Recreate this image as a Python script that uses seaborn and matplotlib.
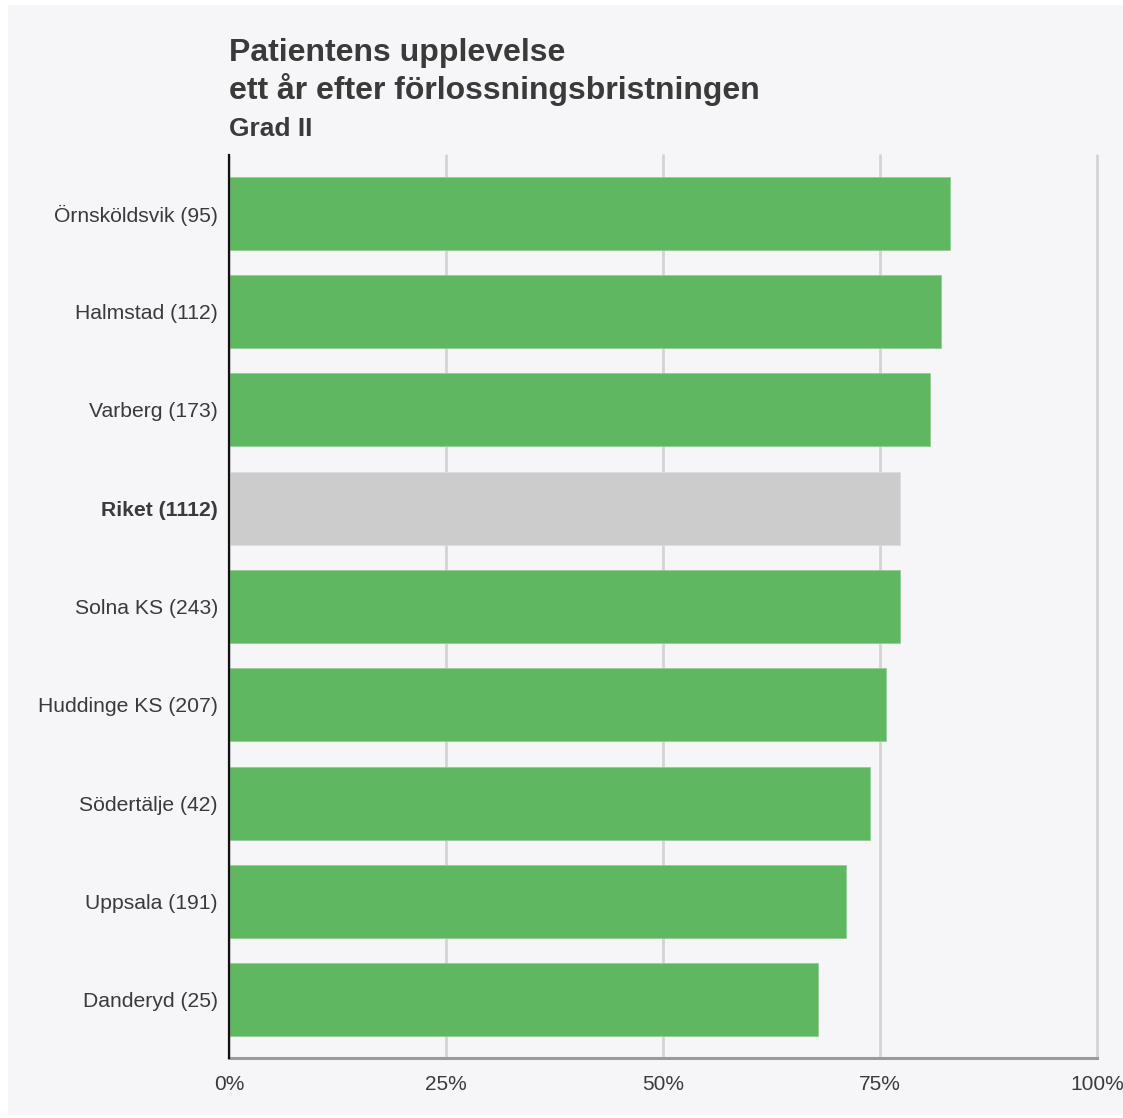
import matplotlib
matplotlib.use("Agg")
import matplotlib.pyplot as plt
import matplotlib.patches as mpatches
from matplotlib.ticker import FuncFormatter
import seaborn as sns
import pandas as pd

# Data: share of patients, one year after a grade II tear
clinics = ["Örnsköldsvik (95)", "Halmstad (112)", "Varberg (173)", "Riket (1112)",
           "Solna KS (243)", "Huddinge KS (207)", "Södertälje (42)", "Uppsala (191)",
           "Danderyd (25)"]
share = [83.1, 82.0, 80.8, 77.3, 77.3, 75.7, 73.8, 71.1, 67.9]
national_label = "Riket (1112)"
x_ticks = [0, 25, 50, 75, 100]

GREEN = "#5fb762"
GREY_BAR = "#cccccc"
BG = "#f6f5f8"
TEXT = "#3a3a3a"

sns.set_theme(style="white")
plt.rcParams["font.family"] = ["Liberation Sans", "DejaVu Sans"]

df = pd.DataFrame({"clinic": clinics, "share": share})
palette = {c: (GREY_BAR if c == national_label else GREEN) for c in clinics}

fig = plt.figure(figsize=(11.23, 11.18), dpi=100)
fig.patch.set_facecolor("white")
fig.patches.append(mpatches.Rectangle((8 / 1123, 3 / 1118), 1 - 8 / 1123, 1 - 8 / 1118,
                                      transform=fig.transFigure, facecolor=BG,
                                      edgecolor="none", zorder=-10))

ax = fig.add_axes([229 / 1123, 1 - 1058 / 1118, 868 / 1123, 903 / 1118])
ax.set_facecolor(BG)

sns.barplot(data=df, x="share", y="clinic", hue="clinic", palette=palette,
            order=clinics, hue_order=clinics, width=0.743, saturation=1,
            legend=False, ax=ax, zorder=3, edgecolor="none")
for p in ax.patches:
    fc = matplotlib.colors.to_hex(p.get_facecolor())
    p.set_edgecolor("#8fd08f" if fc.lower() == GREEN else "#dcdcdc")
    p.set_linewidth(0.6)

ax.set_xlim(0, 100)
ax.set_ylim(8.595, -0.595)
ax.set_xticks(x_ticks)
ax.xaxis.set_major_formatter(FuncFormatter(lambda v, _: f"{v:.0f}%"))
ax.grid(axis="x", color="#d4d3d6", linewidth=2, zorder=0)
ax.grid(axis="y", visible=False)
ax.set_axisbelow(True)
for gl in ax.get_xgridlines():
    gl.set_clip_on(False)

for side in ["top", "right"]:
    ax.spines[side].set_visible(False)
ax.spines["left"].set_color("#111111")
ax.spines["left"].set_linewidth(1.6)
ax.spines["left"].set_zorder(5)
ax.spines["bottom"].set_color("#9a9a9a")
ax.spines["bottom"].set_linewidth(2.2)

ax.set_xlabel("")
ax.set_ylabel("")
ax.tick_params(axis="y", length=0, labelsize=15.2, labelcolor=TEXT, pad=8)
ax.tick_params(axis="x", length=0, labelsize=15, labelcolor=TEXT, pad=12)
for lbl in ax.get_yticklabels():
    if lbl.get_text() == national_label:
        lbl.set_fontweight("bold")

fig.text(229 / 1123, 1 - 53 / 1118, "Patientens upplevelse", fontsize=23,
         fontweight="bold", color=TEXT, va="center", ha="left")
fig.text(229 / 1123, 1 - 89 / 1118, "ett år efter förlossningsbristningen", fontsize=23,
         fontweight="bold", color=TEXT, va="center", ha="left")
fig.text(229 / 1123, 1 - 129 / 1118, "Grad II", fontsize=19,
         fontweight="bold", color=TEXT, va="center", ha="left")

fig.savefig("out.png", dpi=100, facecolor=fig.get_facecolor())
